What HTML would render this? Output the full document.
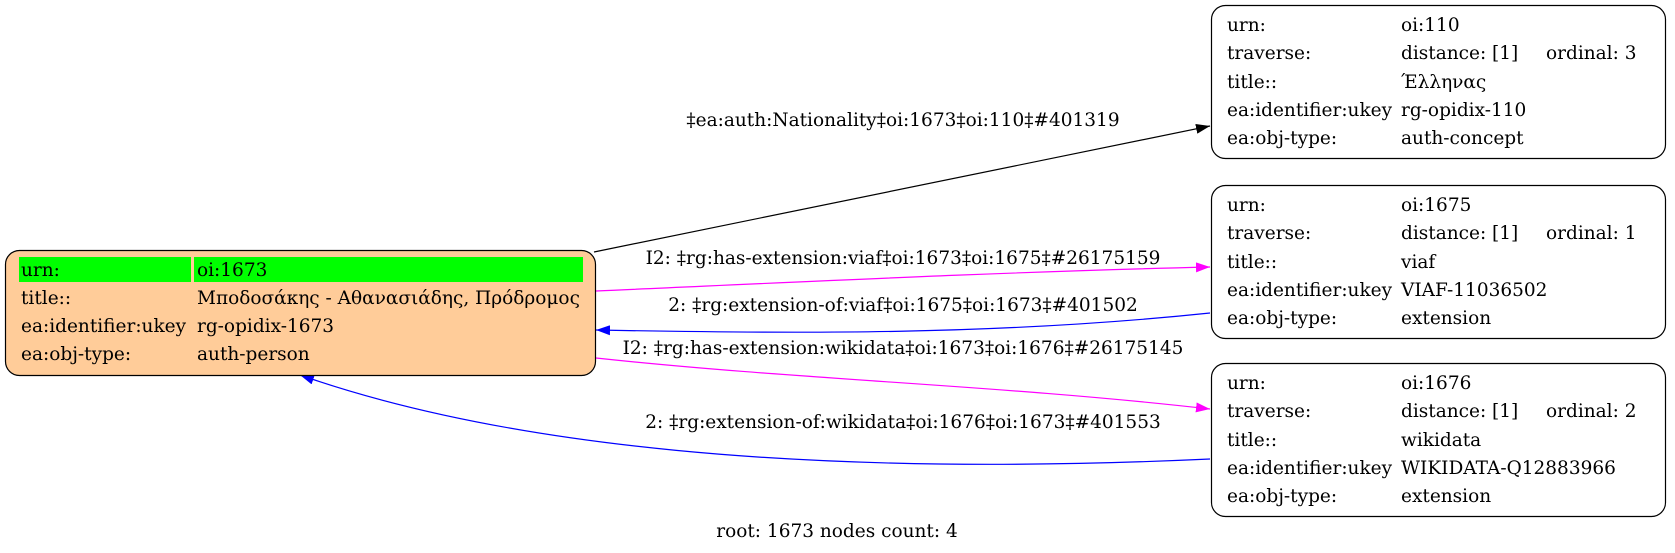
<!DOCTYPE html>
<html><head><meta charset="utf-8"><style>
html,body{margin:0;padding:0;background:#fff;}
svg{display:block;}
text{font-family:"DejaVu Serif","Liberation Serif",serif;font-size:18.5px;fill:#000;}
</style></head><body>
<svg width="1675" height="553" viewBox="0 0 1675 553" xmlns="http://www.w3.org/2000/svg">
<defs>
<marker id="ab" markerWidth="14" markerHeight="10" refX="14" refY="5" orient="auto" markerUnits="userSpaceOnUse"><path d="M0,0 L14,5 L0,10 z" fill="#000"/></marker>
<marker id="am" markerWidth="14" markerHeight="10" refX="14" refY="5" orient="auto" markerUnits="userSpaceOnUse"><path d="M0,0 L14,5 L0,10 z" fill="#f0f"/></marker>
<marker id="au" markerWidth="14" markerHeight="10" refX="14" refY="5" orient="auto" markerUnits="userSpaceOnUse"><path d="M0,0 L14,5 L0,10 z" fill="#00f"/></marker>
</defs>

<path d="M594,252 L1210,126" stroke="#000" stroke-width="1.2" fill="none" marker-end="url(#ab)"/>
<text x="903" y="126" text-anchor="middle">‡ea:auth:Nationality‡oi:1673‡oi:110‡#401319</text>

<path d="M596,291 C800,282 1000,272 1210,267" stroke="#f0f" stroke-width="1.2" fill="none" marker-end="url(#am)"/>
<text x="903" y="264" text-anchor="middle">I2: ‡rg:has-extension:viaf‡oi:1673‡oi:1675‡#26175159</text>

<path d="M1210,313 C1000,335 800,334 596,330" stroke="#00f" stroke-width="1.2" fill="none" marker-end="url(#au)"/>
<text x="903" y="311" text-anchor="middle">2: ‡rg:extension-of:viaf‡oi:1675‡oi:1673‡#401502</text>

<path d="M596,358 C800,380 1000,385 1210,409" stroke="#f0f" stroke-width="1.2" fill="none" marker-end="url(#am)"/>
<text x="903" y="354" text-anchor="middle">I2: ‡rg:has-extension:wikidata‡oi:1673‡oi:1676‡#26175145</text>

<path d="M1210,459 C800,478 500,445 300,375" stroke="#00f" stroke-width="1.2" fill="none" marker-end="url(#au)"/>
<text x="903" y="428" text-anchor="middle">2: ‡rg:extension-of:wikidata‡oi:1676‡oi:1673‡#401553</text>

<rect x="5.5" y="250.5" width="590" height="125" rx="14" fill="#ffcc99" stroke="#000" stroke-width="1.2"/>
<rect x="19" y="257" width="172" height="25" fill="#00ff00"/>
<rect x="194" y="257" width="389" height="25" fill="#00ff00"/>
<text x="21" y="276">urn:</text><text x="197" y="276">oi:1673</text>
<text x="21" y="304">title::</text><text x="197" y="304">Μποδοσάκης - Αθανασιάδης, Πρόδρομος</text>
<text x="21" y="332">ea:identifier:ukey</text><text x="197" y="332">rg-opidix-1673</text>
<text x="21" y="360">ea:obj-type:</text><text x="197" y="360">auth-person</text>

<rect x="1211.5" y="5.5" width="454" height="153" rx="14" fill="#fff" stroke="#000" stroke-width="1.2"/>
<text x="1227" y="31">urn:</text><text x="1401" y="31">oi:110</text>
<text x="1227" y="59">traverse:</text><text x="1401" y="59">distance: [1]</text><text x="1546" y="59">ordinal: 3</text>
<text x="1227" y="88">title::</text><text x="1401" y="88">Έλληνας</text>
<text x="1227" y="116">ea:identifier:ukey</text><text x="1401" y="116">rg-opidix-110</text>
<text x="1227" y="144">ea:obj-type:</text><text x="1401" y="144">auth-concept</text>

<rect x="1211.5" y="185.5" width="454" height="153" rx="14" fill="#fff" stroke="#000" stroke-width="1.2"/>
<text x="1227" y="211">urn:</text><text x="1401" y="211">oi:1675</text>
<text x="1227" y="239">traverse:</text><text x="1401" y="239">distance: [1]</text><text x="1546" y="239">ordinal: 1</text>
<text x="1227" y="268">title::</text><text x="1401" y="268">viaf</text>
<text x="1227" y="296">ea:identifier:ukey</text><text x="1401" y="296">VIAF-11036502</text>
<text x="1227" y="324">ea:obj-type:</text><text x="1401" y="324">extension</text>

<rect x="1211.5" y="363.5" width="454" height="153" rx="14" fill="#fff" stroke="#000" stroke-width="1.2"/>
<text x="1227" y="389">urn:</text><text x="1401" y="389">oi:1676</text>
<text x="1227" y="417">traverse:</text><text x="1401" y="417">distance: [1]</text><text x="1546" y="417">ordinal: 2</text>
<text x="1227" y="446">title::</text><text x="1401" y="446">wikidata</text>
<text x="1227" y="474">ea:identifier:ukey</text><text x="1401" y="474">WIKIDATA-Q12883966</text>
<text x="1227" y="502">ea:obj-type:</text><text x="1401" y="502">extension</text>

<text x="837" y="537" text-anchor="middle">root: 1673 nodes count: 4</text>
</svg>
</body></html>
